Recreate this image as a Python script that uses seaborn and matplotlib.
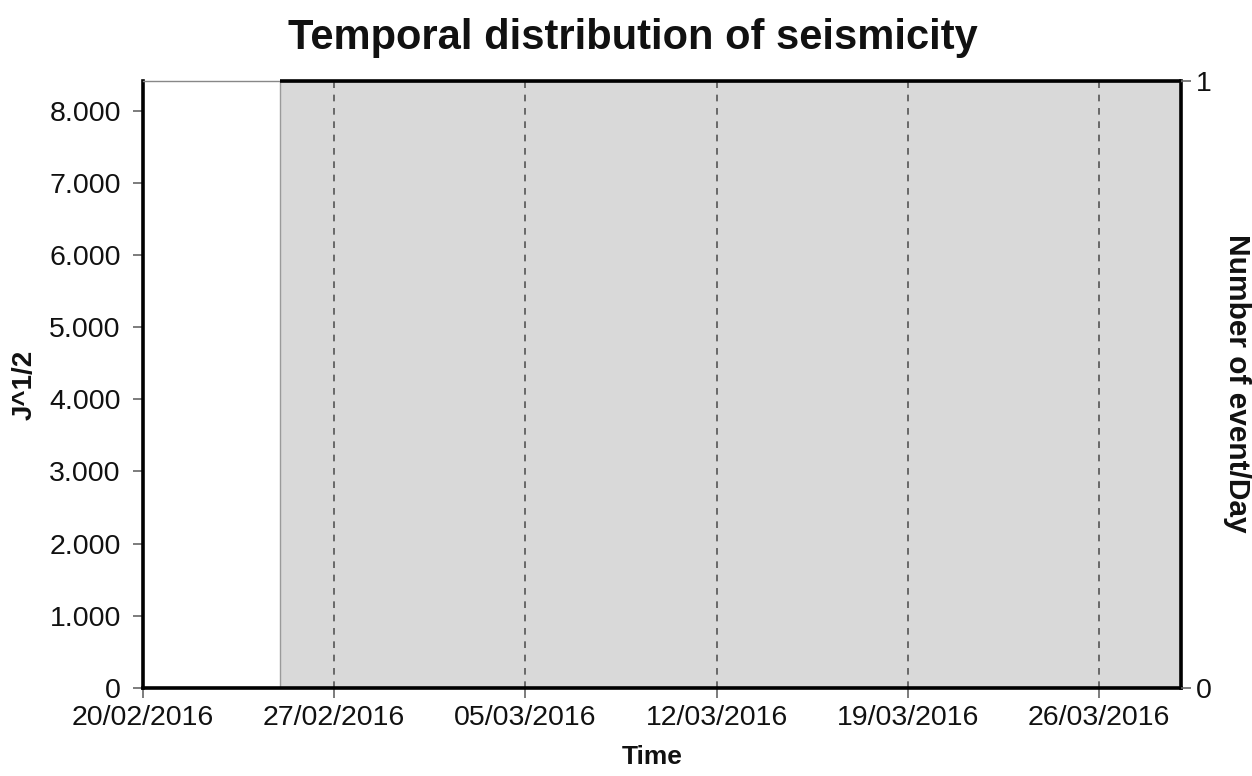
import matplotlib
matplotlib.use("Agg")
import matplotlib.pyplot as plt
import matplotlib.dates as mdates
import matplotlib.ticker as mticker
import seaborn as sns
import pandas as pd
import numpy as np

# ---- data ----
x_start = "2016-02-20"
x_end = "2016-03-29"
period_start = "2016-02-25"      # start of shaded monitoring period
period_end = "2016-03-29"
tick_dates = ["2016-02-20", "2016-02-27", "2016-03-05", "2016-03-12", "2016-03-19", "2016-03-26"]
left_yticks = [0, 1000, 2000, 3000, 4000, 5000, 6000, 7000, 8000]
left_ymax = 8410
right_yticks = [0, 1]
event_times = []        # no events recorded
event_energy = []

title = "Temporal distribution of seismicity"
xlabel = "Time"
ylabel_left = "J^1/2"
ylabel_right = "Number of event/Day"

sns.set_theme(style="white")
plt.rcParams['font.family'] = ['Liberation Sans', 'DejaVu Sans']
plt.rcParams['text.color'] = '#111111'

fig = plt.figure(figsize=(12.52, 7.76), dpi=100)
ax = fig.add_axes([143/1252, 1-688/776, (1181-143)/1252, (688-81)/776])

df = pd.DataFrame({"time": pd.to_datetime(pd.Series(event_times, dtype="object")),
                   "energy": pd.Series(event_energy, dtype=float)})
if len(df):
    sns.scatterplot(data=df, x="time", y="energy", ax=ax, color="black")

xs, xe = pd.Timestamp(x_start), pd.Timestamp(x_end)
ps, pe = pd.Timestamp(period_start), pd.Timestamp(period_end)
ax.set_xlim(xs, xe)
ax.set_ylim(0, left_ymax)

ax.axvspan(ps, pe, facecolor="#d9d9d9", edgecolor="#9a9a9a", linewidth=1.0, zorder=0)
ax.plot([ps, pe], [left_ymax, left_ymax], color="black", linewidth=2.6,
        clip_on=False, zorder=5, solid_capstyle="butt")

ticks = pd.to_datetime(tick_dates)
ax.set_xticks(ticks)
ax.xaxis.set_major_formatter(mdates.DateFormatter("%d/%m/%Y"))
for t in ticks[1:]:
    ax.axvline(t, color="#555555", linestyle=(0, (4, 4)), linewidth=1.2, zorder=1)

ax.set_yticks(left_yticks)
ax.yaxis.set_major_formatter(mticker.FuncFormatter(lambda v, p: f"{int(v):,}".replace(",", ".")))

for s in ["left", "bottom", "right"]:
    ax.spines[s].set_color("black")
    ax.spines[s].set_linewidth(2.6)
ax.spines["top"].set_color("#888888")
ax.spines["top"].set_linewidth(1.0)

ax.tick_params(axis="both", which="major", direction="out", length=7, width=1.2,
               color="#666666", labelsize=20.5, labelcolor="#111111")
ax.tick_params(axis="x", pad=5)
ax.tick_params(axis="y", pad=9)
ax.tick_params(left=True, bottom=True)

ax2 = ax.twinx()
ax2.set_ylim(0, 1)
ax2.set_yticks(right_yticks)
ax2.tick_params(axis="y", direction="out", length=7, width=1.2, color="#666666",
                labelsize=20.5, labelcolor="#111111", right=True, pad=4)
for s in ax2.spines.values():
    s.set_visible(False)
ax2.grid(False)

fig.text(633/1252, 1-38/776, title, ha="center", va="center", fontsize=30,
         fontweight="bold", color="#111111")
fig.text(652/1252, 1-757/776, xlabel, ha="center", va="center", fontsize=19,
         fontweight="bold", color="#111111")
fig.text(25/1252, 1-385/776, ylabel_left, ha="center", va="center", fontsize=20,
         fontweight="bold", rotation=90, color="#111111")
fig.text(1237/1252, 1-383/776, ylabel_right, ha="center", va="center", fontsize=21.5,
         fontweight="bold", rotation=270, color="#111111")

fig.savefig("out.png", dpi=100)
